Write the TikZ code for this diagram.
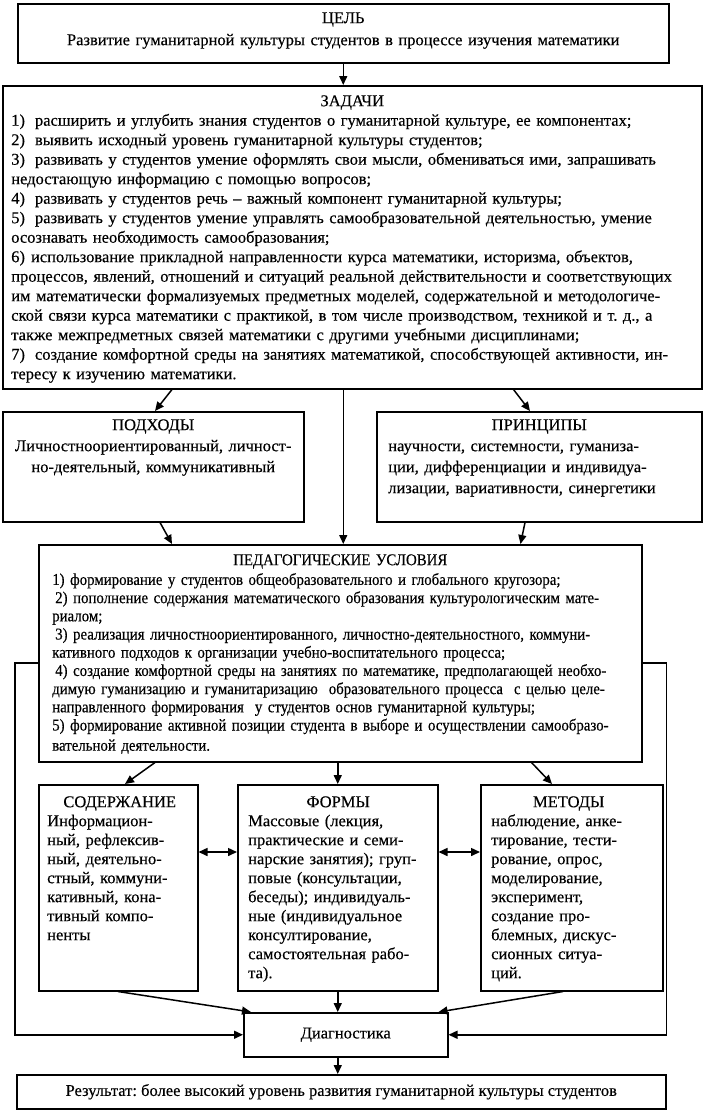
\documentclass[tikz,border=0pt]{standalone}
\usepackage{fontspec}
\setmainfont{Liberation Serif}[UprightFeatures={FakeBold=0.35}]
\newfontfamily\pedfont{Liberation Serif}[FakeStretch=0.9,UprightFeatures={FakeBold=0.35}]
\usetikzlibrary{arrows.meta,calc}
\frenchspacing
\newcommand\JL[1]{\makebox[\hsize][s]{#1}}
\newcommand\CL[1]{\makebox[\hsize]{#1}}
\newcommand\topst{\rule{0pt}{13pt}}
\newcommand\fsz[1]{\fontsize{16.5}{#1}\selectfont}
\begin{document}
\begin{tikzpicture}[x=1pt,y=-1pt,
 box/.style={draw, line width=1.5pt, inner sep=0pt, anchor=north west},
 tx/.style={inner sep=0pt, anchor=north, align=left},
 arr/.style={line width=1.5pt, -{Triangle[length=9pt,width=8pt]}},
 darr/.style={line width=1.5pt, {Triangle[length=9pt,width=8pt]}-{Triangle[length=9pt,width=8pt]}}]
\useasboundingbox (0,0) rectangle (703,1111);
% boxes
\node[box, minimum width=651, minimum height=59] (cel) at (17,3) {};
\node[box, minimum width=699, minimum height=303] (zad) at (2,85) {};
\node[box, minimum width=301, minimum height=110] (pod) at (2,411) {};
\node[box, minimum width=325, minimum height=110] (prin) at (376,411) {};
\node[box, minimum width=603, minimum height=217] (ped) at (38,544) {};
\node[box, minimum width=159, minimum height=206] (sod) at (38,784) {};
\node[box, minimum width=200, minimum height=206] (form) at (237,784) {};
\node[box, minimum width=182, minimum height=206] (met) at (480,784) {};
\node[box, minimum width=204, minimum height=44, font=\fsz{19}] (diag) at (243,1012) {Диагностика};
\node[box, minimum width=649, minimum height=34, font=\fsz{19}] (res) at (16,1074) {Результат: более высокий уровень развития гуманитарной культуры студентов};
% texts
\node[tx, text width=640, font=\fsz{22}] (celt) at ([yshift=-7]cel.north) {\CL{\topst ЦЕЛЬ}\\
\CL{Развитие гуманитарной культуры студентов в процессе изучения математики}};
\node[tx, text width=682, font=\fsz{19.5}] (zadt) at ([yshift=-8]zad.north) {\CL{\topst ЗАДАЧИ}\\
1)\hspace{10pt}расширить и углубить знания студентов о гуманитарной культуре, ее компонентах;\\
2)\hspace{10pt}выявить исходный уровень гуманитарной культуры студентов;\\
\JL{3)\hspace{10pt}развивать у студентов умение оформлять свои мысли, обмениваться ими, запрашивать}\\
недостающую информацию с помощью вопросов;\\
4)\hspace{10pt}развивать у студентов речь – важный компонент гуманитарной культуры;\\
\JL{5)\hspace{10pt}развивать у студентов умение управлять самообразовательной деятельностью, умение}\\
осознавать необходимость самообразования;\\
\JL{6)\hspace{6pt}использование прикладной направленности курса математики, историзма, объектов,}\\
\JL{процессов, явлений, отношений и ситуаций реальной действительности и соответствующих}\\
\JL{им математически формализуемых предметных моделей, содержательной и методологиче-}\\
\JL{ской связи курса математики с практикой, в том числе производством, техникой и т. д., а}\\
также межпредметных связей математики с другими учебными дисциплинами;\\
\JL{7)\hspace{10pt}создание комфортной среды на занятиях математикой, способствующей активности, ин-}\\
тересу к изучению математики.};
\node[tx, text width=285, font=\fsz{21}] (podt) at ([yshift=-6]pod.north) {\CL{\topst ПОДХОДЫ}\\
\CL{Личностноориентированный, личност-}\\
\CL{но-деятельный, коммуникативный}};
\node[tx, text width=302, font=\fsz{21}] (print) at ([yshift=-6]prin.north) {\CL{\topst ПРИНЦИПЫ}\\
\JL{научности, системности, гуманиза-}\\
\JL{ции, дифференциации и индивидуа-}\\
\JL{лизации, вариативности, синергетики}};
\node[tx, text width=576, font=\pedfont\fsz{18.2}] (pedt) at ([yshift=-8]ped.north) {\CL{\topst ПЕДАГОГИЧЕСКИЕ УСЛОВИЯ}\\[1.5pt]
1) формирование у студентов общеобразовательного и глобального кругозора;\\
\JL{\hspace{3pt}2) пополнение содержания математического образования культурологическим мате-}\\
риалом;\\
\JL{\hspace{3pt}3) реализация\ личностноориентированного,\ личностно-деятельностного,\ коммуни-}\\
кативного подходов к организации учебно-воспитательного процесса;\\
\JL{\hspace{3pt}4) создание комфортной среды на занятиях по математике, предполагающей необхо-}\\
\JL{димую гуманизацию и гуманитаризацию\ \ образовательного процесса\ \ с целью целе-}\\
направленного формирования\ \ у студентов основ гуманитарной культуры;\\
\JL{5) формирование активной позиции студента в выборе и осуществлении самообразо-}\\[2pt]
вательной деятельности.};
\node[tx, anchor=north west, text width=145, font=\fsz{19}] (sodt) at ([xshift=9,yshift=-10]sod.north west) {\CL{\topst СОДЕРЖАНИЕ}\\
Информацион-\\ный, рефлексив-\\ный, деятельно-\\стный, коммуни-\\кативный, кона-\\тивный компо-\\ненты};
\node[tx, anchor=north west, text width=180, font=\fsz{19}] (formt) at ([xshift=11,yshift=-10]form.north west) {\CL{\topst ФОРМЫ}\\
Массовые (лекция,\\практические и семи-\\нарские занятия); груп-\\повые (консультации,\\беседы); индивидуаль-\\ные (индивидуальное\\консултирование,\\самостоятельная рабо-\\та).};
\node[tx, anchor=north west, text width=155, font=\fsz{19}] (mett) at ([xshift=11,yshift=-10]met.north west) {\CL{\topst МЕТОДЫ}\\
наблюдение, анке-\\тирование, тести-\\рование, опрос,\\моделирование,\\эксперимент,\\создание про-\\блемных, дискус-\\сионных ситуа-\\ций.};
% connectors
\draw[arr] (cel.south) -- (cel.south |- zad.north);
\draw[arr] ([xshift=170]zad.south west) -- ([xshift=153]pod.north west);
\draw[arr] ([xshift=-189]zad.south east) -- ([xshift=154]prin.north west);
\draw[arr] (cel.south |- zad.south) -- (cel.south |- ped.north);
\draw[arr] ([xshift=158]pod.south west) -- ([xshift=134]ped.north west);
\draw[arr] ([xshift=149]prin.south west) -- ([xshift=-122]ped.north east);
\draw[arr] ([xshift=117]ped.south west) -- ([xshift=87]sod.north west);
\draw[arr] (form.north |- ped.south) -- (form.north);
\draw[arr] ([xshift=-111]ped.south east) -- ([xshift=72]met.north west);
\draw[darr] ([yshift=-68]sod.north east) -- ([yshift=-68]form.north west);
\draw[darr] ([yshift=-68]form.north east) -- ([yshift=-68]met.north west);
\draw[arr] ([xshift=80]sod.south west) -- ([xshift=8]diag.north west);
\draw[arr] (form.south) -- (form.south |- diag.north);
\draw[arr] ([xshift=83]met.south west) -- ([xshift=-10]diag.north east);
\draw[arr] (form.south |- diag.south) -- (form.south |- res.north);
\draw[arr] ([yshift=-119]ped.north west) -- ++(-23,0) |- (diag.west);
\draw[arr] ([yshift=-119]ped.north east) -- ++(24,0) |- (diag.east);
\end{tikzpicture}
\end{document}
